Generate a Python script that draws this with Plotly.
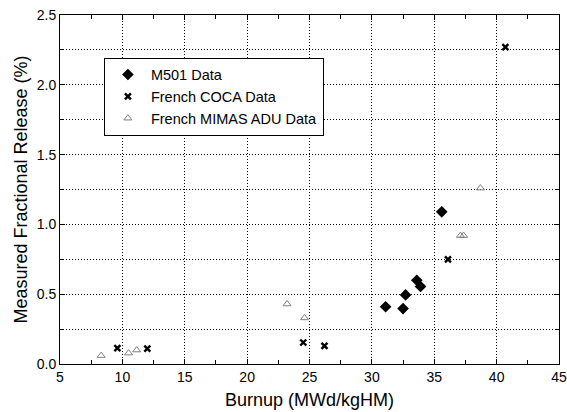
import plotly.graph_objects as go

m501_x = [35.6, 33.6, 33.9, 32.7, 31.1, 32.5]
m501_y = [1.09, 0.60, 0.555, 0.495, 0.41, 0.397]

coca_x = [40.7, 36.1, 24.5, 26.2, 9.6, 12.0]
coca_y = [2.27, 0.75, 0.154, 0.13, 0.114, 0.11]

mimas_x = [8.3, 10.5, 11.15, 23.2, 24.6, 37.1, 37.35, 38.7]
mimas_y = [0.06, 0.078, 0.10, 0.43, 0.33, 0.92, 0.92, 1.26]

FONT = "Liberation Sans, Arial, sans-serif"
DOT = "1px,2px"

fig = go.Figure()
fig.add_trace(go.Scatter(x=m501_x, y=m501_y, mode="markers", name="M501 Data",
                         marker=dict(symbol="diamond", size=9, color="black")))
fig.add_trace(go.Scatter(x=coca_x, y=coca_y, mode="markers", name="French COCA Data",
                         marker=dict(symbol="x-thin", size=6, color="black",
                                     line=dict(width=2.4, color="black"))))
fig.add_trace(go.Scatter(x=mimas_x, y=mimas_y, mode="markers", name="French MIMAS ADU Data",
                         marker=dict(symbol="triangle-up-open", size=7, color="#808080",
                                     line=dict(width=1))))

fig.update_layout(
    width=567, height=412,
    margin=dict(l=60, r=8, t=15, b=48),
    paper_bgcolor="white", plot_bgcolor="white",
    font=dict(family=FONT, color="black", size=14),
    legend=dict(x=0.088, y=0.878, xanchor="left", yanchor="top",
                bordercolor="black", borderwidth=1, bgcolor="white",
                font=dict(size=14.5), itemwidth=36, tracegroupgap=0),
    annotations=[
        dict(text="Burnup (MWd/kgHM)", xref="paper", yref="paper", x=0.5, y=-0.103,
             xanchor="center", yanchor="middle", showarrow=False, font=dict(size=18)),
        dict(text="Measured Fractional Release (%)", xref="paper", yref="paper",
             x=-0.08, y=0.5, xanchor="center", yanchor="middle", textangle=-90,
             showarrow=False, font=dict(size=18)),
    ],
)
fig.update_xaxes(
    range=[5, 45], dtick=5, tick0=5, automargin=False,
    showline=True, linecolor="black", linewidth=1, mirror="allticks",
    ticks="inside", ticklen=5, tickcolor="black",
    showgrid=True, gridcolor="black", gridwidth=1, griddash=DOT,
    zeroline=False,
    minor=dict(dtick=2.5, ticks="inside", ticklen=4, tickcolor="black", showgrid=False),
    tickfont=dict(size=14),
)
fig.update_yaxes(
    range=[0, 2.5], dtick=0.5, tick0=0, tickformat=".1f", automargin=False,
    showline=True, linecolor="black", linewidth=1, mirror="allticks",
    ticks="inside", ticklen=5, tickcolor="black",
    showgrid=True, gridcolor="black", gridwidth=1, griddash=DOT,
    zeroline=False,
    minor=dict(dtick=0.25, ticks="inside", ticklen=4, tickcolor="black",
               showgrid=True, gridcolor="black", gridwidth=1, griddash=DOT),
    tickfont=dict(size=14),
)

fig.write_html("out.html", config={"displayModeBar": False},
               post_script="document.body.style.margin='0';")
